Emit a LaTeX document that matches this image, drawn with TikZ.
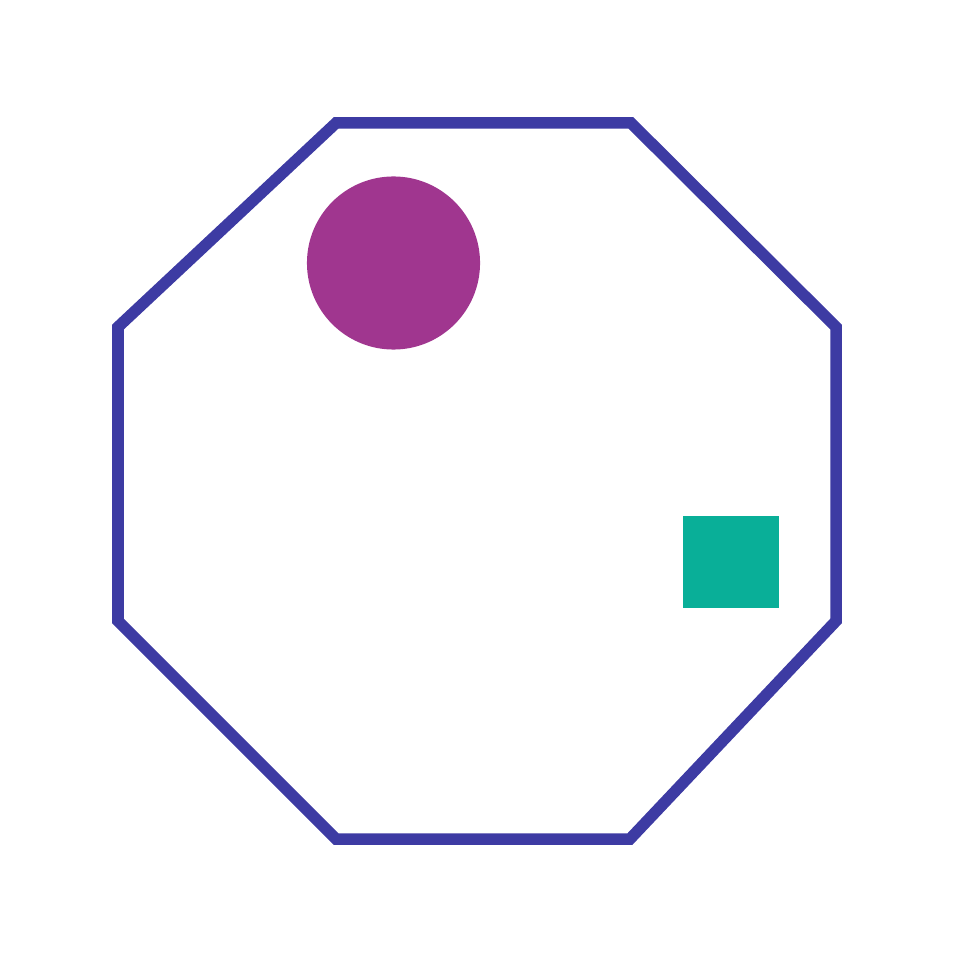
\documentclass[tikz,border=0pt]{standalone}
\usepackage{tikz}
\definecolor{edge}{RGB}{61, 59, 163}
\definecolor{plum}{RGB}{160, 54, 143}
\definecolor{teal}{RGB}{9, 175, 152}

\begin{document}
\begin{tikzpicture}[
  x=0.01cm, y=-0.01cm,
  frame/.style={draw=edge, line width=0.115cm, line join=miter},
  dot/.style={circle, fill=plum, inner sep=0pt, minimum size=1.73cm},
  block/.style={rectangle, fill=teal, inner sep=0pt, minimum width=0.96cm,
    minimum height=0.92cm}
]
\useasboundingbox (0,0) rectangle (958,958);
% octagon outline
\draw[frame] (336,123) -- (631,123) -- (836,327) -- (836,621)
  -- (630,839) -- (336,839) -- (118,621) -- (118,327) -- cycle;
\node[dot] (disc) at (393.5,263) {};
\node[block] (tile) at (731,562) {};
\end{tikzpicture}
\end{document}
